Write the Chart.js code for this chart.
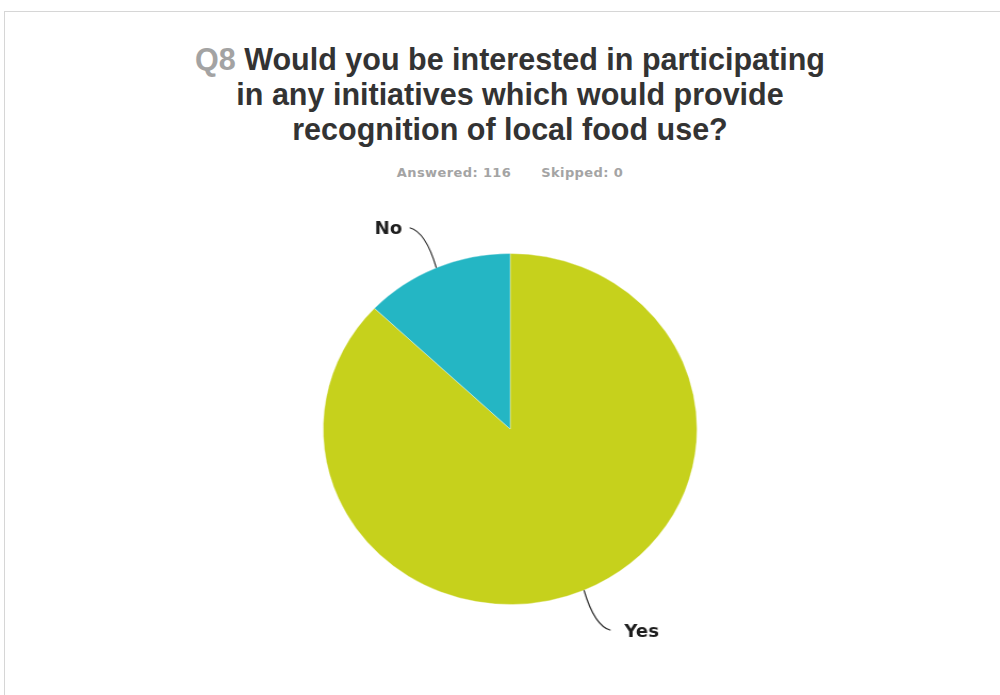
<!DOCTYPE html>
<html>
<head>
<meta charset="utf-8">
<script src="https://cdn.jsdelivr.net/npm/chart.js@4"></script>
<style>
  html, body { margin: 0; padding: 0; background: #fff; }
  body { width: 1000px; height: 695px; position: relative; overflow: hidden; }
  .frame {
    position: absolute; left: 4px; top: 11px; right: 0; bottom: 0;
    border-top: 1px solid #d6d6d6; border-left: 1px solid #d6d6d6;
  }
  .heading {
    position: absolute; left: 20px; top: 42px; width: 980px;
    text-align: center; font-family: "Liberation Sans", Arial, sans-serif;
    font-weight: bold; font-size: 30.5px; line-height: 35px; color: #333;
  }
  .heading .qnum { color: #a3a3a3; }
  .counts {
    position: absolute; left: 20px; top: 165px; width: 980px;
    text-align: center; font-family: "DejaVu Sans", sans-serif;
    font-weight: bold; font-size: 13px; letter-spacing: 0.4px; color: #a4a4a4;
  }
  .counts span + span { margin-left: 30px; }
  #pie { position: absolute; left: 0; top: 0; }
</style>
</head>
<body>
<div class="frame"></div>
<div class="heading"><span class="qnum">Q8</span> Would you be interested in participating<br>in any initiatives which would provide<br>recognition of local food use?</div>
<div class="counts"><span>Answered: 116</span><span>Skipped: 0</span></div>
<canvas id="pie" width="939" height="695" style="width:1000px;height:695px"></canvas>
<script>
const answers = ['Yes', 'No'];
const responses = [101, 15];
const sliceColors = ['#c6d11c', '#24b6c4'];

// leader line from the slice edge out to its label
const calloutPlugin = {
  id: 'callouts',
  afterDatasetsDraw(chart) {
    const ctx = chart.ctx;
    const arcs = chart.getDatasetMeta(0).data;
    ctx.save();
    ctx.strokeStyle = '#333';
    ctx.lineWidth = 1.2;
    ctx.fillStyle = '#1e1e1e';
    ctx.font = 'bold 17px "DejaVu Sans", sans-serif';
    ctx.textBaseline = 'middle';
    arcs.forEach((arc, i) => {
      const { x, y, startAngle, endAngle, outerRadius } = arc.getProps(['x', 'y', 'startAngle', 'endAngle', 'outerRadius'], true);
      const mid = (startAngle + endAngle) / 2;
      const px = x + Math.cos(mid) * outerRadius;
      const py = y + Math.sin(mid) * outerRadius;
      const sx = Math.cos(mid) < 0 ? -1 : 1;
      const sy = Math.sin(mid) < 0 ? -1 : 1;
      const ex = px + sx * 25;
      const ey = py + sy * 40;
      ctx.beginPath();
      ctx.moveTo(px, py);
      ctx.quadraticCurveTo(px + sx * 10, ey - sy * 4, ex, ey);
      ctx.stroke();
      ctx.textAlign = sx < 0 ? 'right' : 'left';
      ctx.fillText(chart.data.labels[i], ex + sx * (sx < 0 ? 7 : 13), ey + 2);
    });
    ctx.restore();
  }
};

new Chart(document.getElementById('pie'), {
  type: 'pie',
  data: {
    labels: answers,
    datasets: [{
      data: responses,
      backgroundColor: sliceColors,
      borderColor: 'rgba(255,255,255,0.35)',
      borderWidth: 1
    }]
  },
  options: {
    responsive: false,
    animation: false,
    layout: { padding: { left: 303, right: 284, top: 253, bottom: 90 } },
    plugins: {
      legend: { display: false },
      tooltip: { enabled: false }
    }
  },
  plugins: [calloutPlugin]
});
</script>
</body>
</html>
